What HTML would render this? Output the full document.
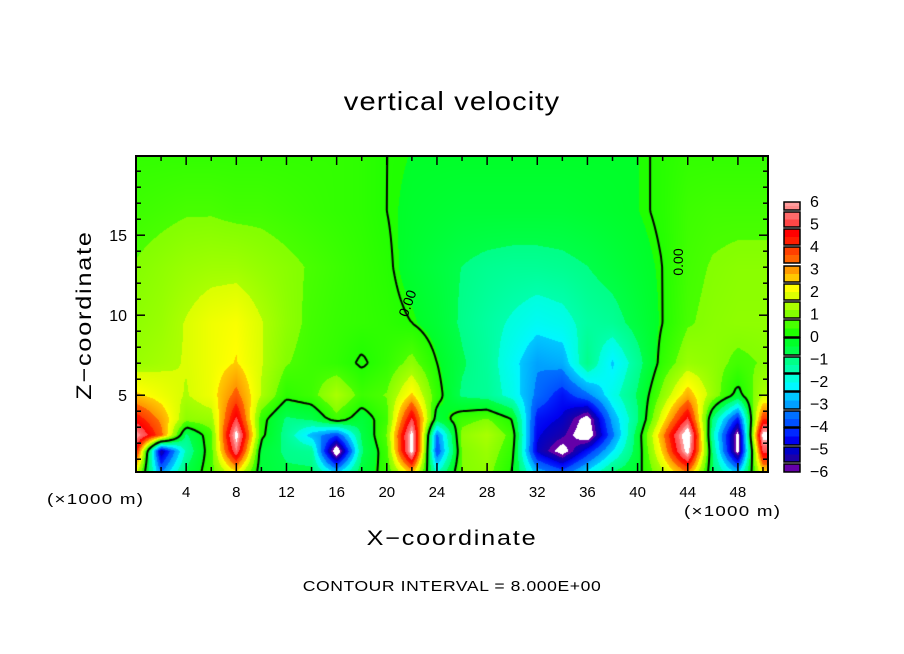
<!DOCTYPE html>
<html><head><meta charset="utf-8">
<style>
body{margin:0;background:#fff;}
#wrap{position:relative;width:904px;height:654px;overflow:hidden;font-family:"Liberation Sans",sans-serif;color:#000;}
.t{position:absolute;white-space:nowrap;}
</style></head>
<body>
<div id="wrap">
<div class="t" style="left:452px;top:86px;font-size:26px;transform:translateX(-50%) scaleX(1.12);letter-spacing:1px;">vertical velocity</div>
<canvas id="field" width="632" height="316" style="position:absolute;left:136px;top:156px;"></canvas>
<svg id="ov" width="904" height="654" style="position:absolute;left:0;top:0;"></svg>
<div class="t" style="left:85px;top:315px;font-size:21px;letter-spacing:1.5px;transform:translate(-50%,-50%) rotate(-90deg) scaleX(1.2);">Z−coordinate</div>
<div class="t" style="left:452px;top:527px;font-size:21px;letter-spacing:1.5px;transform:translateX(-50%) scaleX(1.2);">X−coordinate</div>
<div class="t" style="left:47px;top:491px;font-size:15px;letter-spacing:1px;transform-origin:0 0;transform:scaleX(1.25);">(×1000 m)</div>
<div class="t" style="left:684px;top:503px;font-size:15px;letter-spacing:1px;transform-origin:0 0;transform:scaleX(1.25);">(×1000 m)</div>
<div class="t" style="left:452px;top:578px;font-size:15px;letter-spacing:0.5px;transform:translateX(-50%) scaleX(1.17);">CONTOUR INTERVAL = 8.000E+00</div>
</div>
<script>
// data
const xs = [0,2,4,6,8,10,12,14,16,18,20,22,24,26,28,30,32,34,36,38,40,42,44,46,48,50];
const zs = [20,16.5,13,9.5,7,5,3.5,2.5,1.5,0.3];
const w20  =[0.3,0.3,0.3,0.3,0.3,0.3,0.3,0.3,0.3,0.2,0,-0.1,-0.1,-0.1,-0.1,-0.1,-0.1,-0.1,-0.1,-0.1,-0.1,0.1,0.3,0.3,0.3,0.3];
const w165 =[0.5,0.6,0.7,0.7,0.6,0.6,0.5,0.4,0.3,0.2,0,-0.2,-0.3,-0.4,-0.4,-0.4,-0.4,-0.4,-0.3,-0.2,-0.1,0.1,0.5,0.6,0.6,0.6];
const w13  =[0.8,1.0,1.2,1.3,1.3,1.1,0.9,0.7,0.5,0.3,0.1,-0.3,-0.6,-0.9,-1.1,-1.2,-1.2,-1.1,-0.9,-0.6,-0.3,0.0,0.6,0.8,0.9,0.9];
const w95  =[1.0,1.2,1.6,2.0,2.2,1.6,1.0,0.6,0.4,0.3,0.2,0,-0.4,-1.0,-1.4,-1.8,-2.2,-2.0,-1.4,-1.2,-0.6,0.0,0.7,0.9,1.0,1.0];
const w7   =[1.2,1.4,1.6,2.0,2.4,1.6,0.8,0.5,0.3,-0.1,0.3,1.0,0,-0.8,-1.3,-2.2,-3.2,-3.0,-1.0,-2.6,-1.2,0.3,1.2,1.0,0.6,0.8];
const w5   =[2.5,2.0,1.5,2.0,3.5,1.5,0.2,0.5,1.5,0.5,0.8,2.5,0.3,-1.0,-1.2,-2.0,-3.5,-4.5,-3.5,-2.0,-0.8,1.0,2.8,1.2,-0.3,1.5];
const w35  =[4.5,3.0,1.0,1.2,5.0,0.3,-1.0,-0.8,0.5,-0.5,0.5,5.0,-0.5,0.5,0.8,0.0,-4.5,-5.0,-6.5,-3.0,-1.0,2.0,5.0,-1.0,-4.5,4.0];
const w25  =[6.0,3.5,-1.0,0.5,6.5,0.2,-1.2,-2.8,-4.0,-0.8,0.8,6.5,-3.5,1.0,1.5,0.5,-4.8,-5.5,-6.8,-3.5,-0.5,3.0,7.0,-1.5,-6.5,6.5];
const w15  =[4.5,-5.5,-1.5,0.5,5.5,-0.5,-1.0,-1.2,-7,-1.0,0.5,6.5,-4.0,0.8,1.2,0.3,-5.0,-6.5,-4.5,-2.5,-0.5,2.5,6.5,-1.0,-6.5,5.0];
const w03  =[2.0,-3.5,-0.8,0.5,2.5,-0.5,-0.8,-0.8,-3.0,-0.5,0.3,3.0,-2.0,0.8,1.0,0.0,-3.0,-4.0,-2.5,-1.0,-0.3,1.5,3.5,-0.8,-3.0,2.5];
const W = [w20,w165,w13,w95,w7,w5,w35,w25,w15,w03];
const xTicks = [4,8,12,16,20,24,28,32,36,40,44,48];
const yTicks = [5,10,15];
const cbLabels = [6,5,4,3,2,1,0,-1,-2,-3,-4,-5,-6];

const binCols = [["#ff9c9c","#ff8a8a"],["#ff6a6a","#ff4646"],["#ff0000","#ff1c00"],["#ff4000","#ff6400"],
 ["#ff9a00","#ffc800"],["#ffff00","#dcff00"],["#aaff00","#84ff00"],["#48ff00","#20ff00"],["#00ff28","#00ff48"],
 ["#00ff88","#00ffac"],["#00ffdc","#00f8ff"],["#00c8ff","#00a0ff"],["#0070ff","#0050ff"],["#0028ff","#0000f0"],
 ["#0000c8","#1c00a8"],["#6400a8","#6400a8"]];
const binTop = [202,212,229,247,266,284,302,320,338,357,374,392,411,428,447,464];
const binBot = [210,227,245,263,282,300,318,337,355,373,391,409,427,445,462,472];

const X0=136,X1=768,Y0=156,Y1=472;
const xmin=0,xmax=50.4,zmin=0.2,zmax=19.95;
const sx=v=>X0+(v-xmin)/(xmax-xmin)*(X1-X0);
const sy=v=>Y1-(v-zmin)/(zmax-zmin)*(Y1-Y0);
const cbY=v=>201+(6-v)*22.5;

function hex(h){return [parseInt(h.substr(1,2),16),parseInt(h.substr(3,2),16),parseInt(h.substr(5,2),16)];}
function colorFor(v){
  if(v>6.05||v<-6.05) return [255,255,255];
  const y=cbY(v);
  for(let i=0;i<binTop.length;i++){
    if(y<=binBot[i]+1 || i==binTop.length-1){
      const f=Math.max(0,Math.min(1,(y-binTop[i])/(binBot[i]-binTop[i]+0.01)));
      const a=hex(binCols[i][0]),b=hex(binCols[i][1]);
      return [a[0]+(b[0]-a[0])*f,a[1]+(b[1]-a[1])*f,a[2]+(b[2]-a[2])*f];
    }
  }
}
function field(x,z){
  let xi=Math.min(xs.length-2,Math.max(0,Math.floor(x/2)));
  let fx=Math.max(0,Math.min(1,(x-xs[xi])/2));
  let zi=0;
  for(let k=0;k<zs.length-1;k++){ if(z<=zs[k]&&z>=zs[k+1]){zi=k;break;} if(z<zs[zs.length-1]) zi=zs.length-2;}
  let fz=(zs[zi]-z)/(zs[zi]-zs[zi+1]); fz=Math.max(0,Math.min(1,fz));
  const a=W[zi][xi],b=W[zi][xi+1],c=W[zi+1][xi],d=W[zi+1][xi+1];
  return (a*(1-fx)+b*fx)*(1-fz)+(c*(1-fx)+d*fx)*fz;
}
const cv=document.getElementById('field');const ctx=cv.getContext('2d');
const img=ctx.createImageData(632,316);
for(let py=0;py<316;py++){for(let px=0;px<632;px++){
  const x=xmin+(px+0.5)/632*(xmax-xmin), z=zmax-(py+0.5)/316*(zmax-zmin);
  const c=colorFor(field(x,z)); const o=(py*632+px)*4;
  img.data[o]=c[0];img.data[o+1]=c[1];img.data[o+2]=c[2];img.data[o+3]=255;}}
ctx.putImageData(img,0,0);
ctx.strokeStyle="#000";ctx.lineWidth=2;ctx.beginPath();
const S=3,NX=Math.ceil(632/S),NY=Math.ceil(316/S);
const G=[];for(let j=0;j<=NY;j++){G.push([]);for(let i=0;i<=NX;i++){const x=xmin+Math.min(632,i*S)/632*(xmax-xmin),z=zmax-Math.min(316,j*S)/316*(zmax-zmin);G[j].push(field(x,z));}}
for(let j=0;j<NY;j++)for(let i=0;i<NX;i++){
  const v=[G[j][i],G[j][i+1],G[j+1][i+1],G[j+1][i]];
  const P=[[i,j],[i+1,j],[i+1,j+1],[i,j+1]];const pts=[];
  for(let e=0;e<4;e++){const a=v[e],b=v[(e+1)%4];if((a>0)!==(b>0)){const t=a/(a-b);const p=P[e],q=P[(e+1)%4];pts.push([(p[0]+(q[0]-p[0])*t)*S,(p[1]+(q[1]-p[1])*t)*S]);}}
  for(let k=0;k+1<pts.length;k+=2){ctx.moveTo(pts[k][0],pts[k][1]);ctx.lineTo(pts[k+1][0],pts[k+1][1]);}
}
ctx.stroke();

const NS="http://www.w3.org/2000/svg";const ov=document.getElementById('ov');
function mk(tag,attrs,txt){const e=document.createElementNS(NS,tag);for(const k in attrs)e.setAttribute(k,attrs[k]);if(txt!==undefined)e.textContent=txt;ov.appendChild(e);return e;}
let fr=mk('rect',{x:X0,y:Y0,width:X1-X0,height:Y1-Y0,fill:'none',stroke:'#000','stroke-width':2});


for(let v=2;v<=50;v+=2){const L=(v%4==0)?9:5;
  let t=mk('line',{x1:sx(v),x2:sx(v),y1:Y1,y2:Y1-L,stroke:'#000','stroke-width':1.5});
  
  
  mk('line',{x1:sx(v),x2:sx(v),y1:Y0,y2:Y0+L,stroke:'#000','stroke-width':1.5});}
xTicks.forEach(v=>{let t=mk('text',{x:sx(v),y:497,'text-anchor':'middle','font-size':15,'font-family':'Liberation Sans, sans-serif'},String(v));
  
  });
for(let v=1;v<=19;v++){const L=(v%5==0)?9:5;
  let t=mk('line',{x1:X0,x2:X0+L,y1:sy(v),y2:sy(v),stroke:'#000','stroke-width':1.5});
  
  
  mk('line',{x1:X1,x2:X1-L,y1:sy(v),y2:sy(v),stroke:'#000','stroke-width':1.5});}
yTicks.forEach(v=>{let t=mk('text',{x:127,y:sy(v)+6,'text-anchor':'end','font-size':16,'font-family':'Liberation Sans, sans-serif'},String(v));
  
  });
[[412,305,-70],[683,262,-90]].forEach(p=>{let t=mk('text',{x:p[0],y:p[1],'font-size':14,'font-family':'Liberation Sans, sans-serif',transform:`rotate(${p[2]} ${p[0]} ${p[1]})`,'text-anchor':'middle'},'0.00');
  
  });
binTop.forEach((t0,i)=>{const b=binBot[i],m=(t0+b)/2;
  let r=mk('rect',{x:784,y:t0,width:16,height:m-t0,fill:binCols[i][0]});
  
  
  mk('rect',{x:784,y:m,width:16,height:b-m,fill:binCols[i][1]});
  mk('rect',{x:784,y:t0,width:16,height:b-t0,fill:'none',stroke:'#000','stroke-width':1.5});});
cbLabels.forEach(v=>{let t=mk('text',{x:810,y:cbY(v)+6,'font-size':16,'font-family':'Liberation Sans, sans-serif'},(v<0?'\u2212'+(-v):String(v)));
  
  });
</script>
</body></html>
